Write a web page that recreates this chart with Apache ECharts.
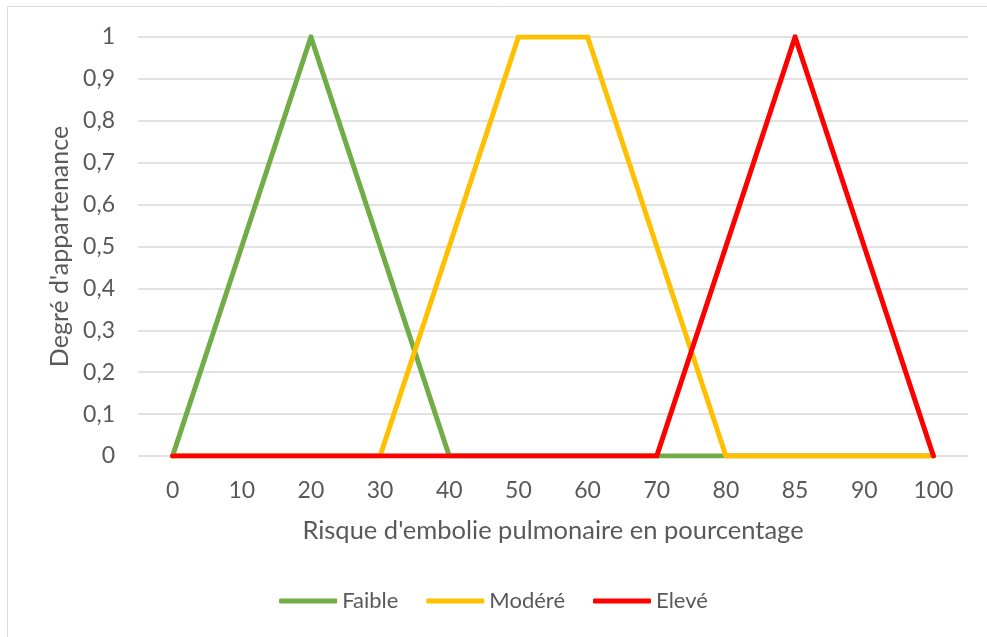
<!DOCTYPE html>
<html><head><meta charset="utf-8">
<script src="https://cdn.jsdelivr.net/npm/echarts@6/dist/echarts.min.js"></script>
<style>html,body{margin:0;padding:0;background:#fff}#c{width:987px;height:637px}</style>
</head><body><div id="c"></div>
<script>
const categories = ['0','10','20','30','40','50','60','70','80','85','90','100'];
const faible = [0,0.5,1,0.5,0,0,0,0,0,0,0,0];
const modere = [0,0,0,0,0.5,1,1,0.5,0,0,0,0];
const eleve  = [0,0,0,0,0,0,0,0,0.5,1,0.5,0];
const seriesNames = ['Faible','Modéré','Elevé'];
const colors = ['#70AD47','#FFC000','#FF0000'];
const font = 'Lato';
const txt = '#595959';
const chart = echarts.init(document.getElementById('c'));
const mk = (name, data, color) => ({
  name, type:'line', data, symbol:'none', color,
  lineStyle:{width:5, color, cap:'round', join:'miter'}
});
chart.setOption({
  animation:false,
  graphic:[{type:'rect', shape:{x:7.5,y:6.5,width:1000,height:640}, style:{fill:'none', stroke:'#d9d9d9', lineWidth:1}}],
  grid:{left:138, right:19, top:37, bottom:181},
  xAxis:{type:'category', data:categories, boundaryGap:true,
    axisLine:{show:false}, axisTick:{show:false},
    axisLabel:{color:txt, fontFamily:font, fontSize:23, margin:23},
    name:'Risque d\'embolie pulmonaire en pourcentage', nameLocation:'middle', nameGap:62,
    nameTextStyle:{color:txt, fontFamily:font, fontSize:25.5}},
  yAxis:{type:'value', min:0, max:1, interval:0.1,
    axisLine:{show:false}, axisTick:{show:false},
    splitLine:{lineStyle:{color:'#d9d9d9', width:1.5}},
    axisLabel:{color:txt, fontFamily:font, fontSize:23, margin:23,
      formatter:v=>String(Math.round(v*10)/10).replace('.',',')},
    name:'Degré d\'appartenance', nameLocation:'middle', nameGap:64, nameRotate:90,
    nameTextStyle:{color:txt, fontFamily:font, fontSize:25}},
  legend:{bottom:20, left:'center', itemWidth:58, itemHeight:5, itemGap:28, itemTextGap:4, icon:'roundRect',
    textStyle:{color:txt, fontFamily:font, fontSize:22}, data:seriesNames},
  series:[mk(seriesNames[0], faible, colors[0]), mk(seriesNames[1], modere, colors[1]), mk(seriesNames[2], eleve, colors[2])]
});
</script></body></html>
